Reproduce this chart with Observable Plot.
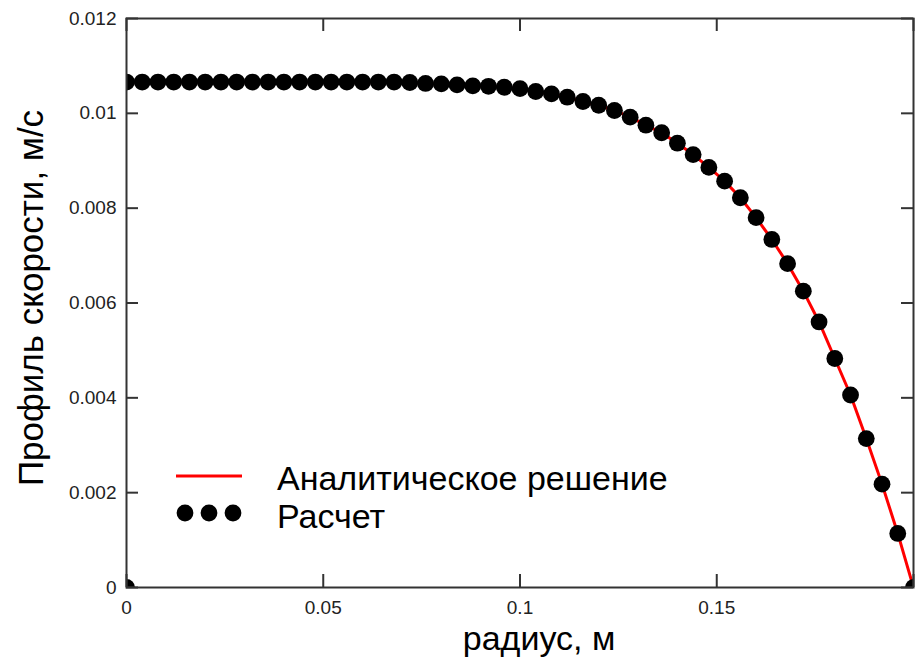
<!DOCTYPE html>
<html><head><meta charset="utf-8">
<script src="https://cdn.jsdelivr.net/npm/d3@7"></script>
<script src="https://cdn.jsdelivr.net/npm/@observablehq/plot@0.6"></script>
<style>
html,body{margin:0;padding:0;background:#fff;}
#chart{position:relative;width:916px;height:659px;overflow:hidden;background:#fff;}
#chart svg{position:absolute;left:0;top:0;}
</style></head><body><div id="chart"></div>
<script>
// radius grid, m
const radius = [0, 0.004, 0.008, 0.012, 0.016, 0.02, 0.024, 0.028, 0.032, 0.036,
  0.04, 0.044, 0.048, 0.052, 0.056, 0.06, 0.064, 0.068, 0.072, 0.076,
  0.08, 0.084, 0.088, 0.092, 0.096, 0.1, 0.104, 0.108, 0.112, 0.116,
  0.12, 0.124, 0.128, 0.132, 0.136, 0.14, 0.144, 0.148, 0.152, 0.156,
  0.16, 0.164, 0.168, 0.172, 0.176, 0.18, 0.184, 0.188, 0.192, 0.196, 0.2];
// analytical solution (red line), m/s
const analytic = [0.01066, 0.01066, 0.01066, 0.01066, 0.01066, 0.01066, 0.01066, 0.01066, 0.01066, 0.01066,
  0.01066, 0.01066, 0.01066, 0.01066, 0.01066, 0.01066, 0.01066, 0.01066, 0.01065, 0.01063,
  0.01062, 0.0106, 0.01058, 0.01057, 0.01055, 0.01052, 0.01046, 0.01041, 0.01034, 0.01025,
  0.01017, 0.01006, 0.00992, 0.00975, 0.00959, 0.00937, 0.00913, 0.00886, 0.00857, 0.00822,
  0.0078, 0.00734, 0.00683, 0.00625, 0.0056, 0.00483, 0.00406, 0.00314, 0.00218, 0.00114, 0];
// computed points (black dots), m/s — includes an extra point at the origin
const calcRadius = [0, 0, 0.004, 0.008, 0.012, 0.016, 0.02, 0.024, 0.028, 0.032, 0.036,
  0.04, 0.044, 0.048, 0.052, 0.056, 0.06, 0.064, 0.068, 0.072, 0.076,
  0.08, 0.084, 0.088, 0.092, 0.096, 0.1, 0.104, 0.108, 0.112, 0.116,
  0.12, 0.124, 0.128, 0.132, 0.136, 0.14, 0.144, 0.148, 0.152, 0.156,
  0.16, 0.164, 0.168, 0.172, 0.176, 0.18, 0.184, 0.188, 0.192, 0.196, 0.2];
const calcVelocity = [0, 0.01066, 0.01066, 0.01066, 0.01066, 0.01066, 0.01066, 0.01066, 0.01066, 0.01066, 0.01066,
  0.01066, 0.01066, 0.01066, 0.01066, 0.01066, 0.01066, 0.01066, 0.01066, 0.01065, 0.01063,
  0.01062, 0.0106, 0.01058, 0.01057, 0.01055, 0.01052, 0.01046, 0.01041, 0.01034, 0.01025,
  0.01017, 0.01006, 0.00992, 0.00975, 0.00959, 0.00937, 0.00913, 0.00886, 0.00857, 0.00822,
  0.0078, 0.00734, 0.00683, 0.00625, 0.0056, 0.00483, 0.00406, 0.00314, 0.00218, 0.00114, 0];

const yTicks = [0, 0.002, 0.004, 0.006, 0.008, 0.01, 0.012];
const yTickLabels = ["0", "0.002", "0.004", "0.006", "0.008", "0.01", "0.012"];
const xTicks = [0, 0.05, 0.1, 0.15, 0.2];
const xTickLabels = ["0", "0.05", "0.1", "0.15", ""];
const xTitle = "радиус, м";
const yTitle = "Профиль скорости, м/с";
const legendLabels = ["Аналитическое решение", "Расчет"];

const lineData = radius.map((r, i) => ({r, v: analytic[i]}));
const dotData = calcRadius.map((r, i) => ({r, v: calcVelocity[i]}));

const W = 916, H = 659;
const mL = 126, mR = 3, mT = 18, mB = 72;
const fw = W - mL - mR, fh = H - mT - mB;
const FONT = "'Liberation Sans', Arial, sans-serif";

const chart = Plot.plot({
  width: W, height: H,
  marginLeft: mL, marginRight: mR, marginTop: mT, marginBottom: mB,
  x: {domain: [0, 0.2]},
  y: {domain: [0, 0.012]},
  style: {fontFamily: FONT, background: "#fff", color: "#222", overflow: "visible"},
  marks: [
    Plot.line(lineData, {x: "r", y: "v", stroke: "#ff0000", strokeWidth: 3, clip: "frame"}),
    Plot.dot(dotData, {x: "r", y: "v", r: 8.4, fill: "#000", stroke: "none", clip: "frame"}),
    Plot.frame({stroke: "#333", strokeWidth: 2}),
    Plot.tickY(yTicks, {y: d => d, stroke: "#333", strokeWidth: 2, insetRight: fw - 12}),
    Plot.tickY(yTicks, {y: d => d, stroke: "#333", strokeWidth: 2, insetLeft: fw - 12}),
    Plot.tickX(xTicks, {x: d => d, stroke: "#333", strokeWidth: 2, insetTop: fh - 13}),
    Plot.tickX(xTicks, {x: d => d, stroke: "#333", strokeWidth: 2, insetBottom: fh - 13}),
    Plot.axisY(yTicks, {anchor: "left", tickSize: 0, tickPadding: 10, fontSize: 19, label: null,
      tickFormat: d => yTickLabels[yTicks.indexOf(d)]}),
    Plot.axisX(xTicks, {anchor: "bottom", tickSize: 0, tickPadding: 13, fontSize: 19, label: null,
      tickFormat: d => xTickLabels[xTicks.indexOf(d)]}),
    Plot.text([yTitle], {text: d => d, frameAnchor: "left", textAnchor: "middle", rotate: -90, dx: -95, dy: -5,
      fontSize: 35, fill: "#000", lineAnchor: "middle", letterSpacing: "1.3px"}),
    Plot.text([xTitle], {text: d => d, frameAnchor: "bottom", textAnchor: "middle", dx: 19, dy: 52,
      fontSize: 34, fill: "#000", lineAnchor: "middle"})
  ]
});
document.getElementById("chart").appendChild(chart);

// legend overlay
const leg = d3.select("#chart").append("svg")
  .attr("width", W).attr("height", H)
  .style("pointer-events", "none");
leg.append("line").attr("x1", 176).attr("x2", 242).attr("y1", 476).attr("y2", 476)
  .attr("stroke", "#ff0000").attr("stroke-width", 3);
[185, 209, 233].forEach(cx => leg.append("circle").attr("cx", cx).attr("cy", 513).attr("r", 8.4).attr("fill", "#000"));
leg.selectAll("text.lg").data(legendLabels).join("text")
  .attr("class", "lg")
  .attr("x", 277).attr("y", (d, i) => i === 0 ? 490 : 528)
  .attr("font-family", FONT).attr("font-size", 34).attr("fill", "#000")
  .text(d => d);
</script></body></html>
